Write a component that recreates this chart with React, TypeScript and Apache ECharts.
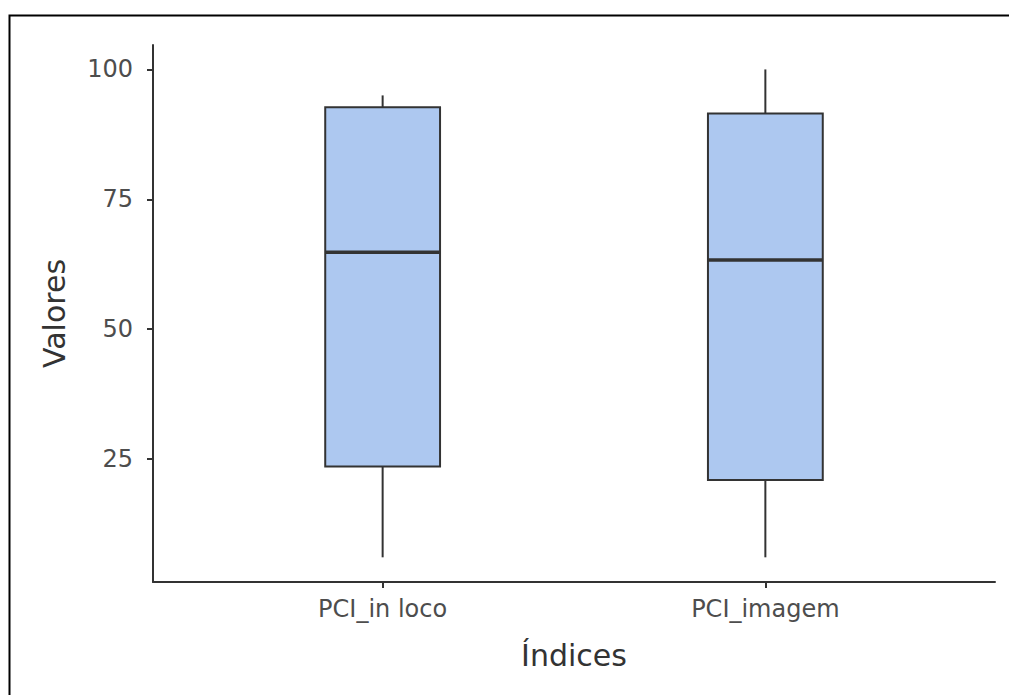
import React, { useEffect, useRef } from "react";
import * as echarts from "echarts";

const categories = ["PCI_in loco", "PCI_imagem"];
const positions = [1, 2];
const whiskerLow = [6.1, 6.1];
const q1 = [23.6, 21.0];
const median = [64.8, 63.3];
const q3 = [92.7, 91.5];
const whiskerHigh = [95.0, 100.0];
const yTicks = [25, 50, 75, 100];

export default function App() {
  const ref = useRef<HTMLDivElement>(null);
  useEffect(() => {
    if (!ref.current) return;
    document.body.style.margin = "0";
    document.body.style.overflow = "hidden";
    const chart = echarts.init(ref.current, null, { renderer: "svg" });
    const data = positions.map((p, i) => [p, whiskerLow[i], q1[i], median[i], q3[i], whiskerHigh[i]]);
    const axisColor = "#333333";
    chart.setOption({
      animation: false,
      backgroundColor: "#ffffff",
      textStyle: { fontFamily: "DejaVu Sans" },
      graphic: [
        {
          type: "polyline",
          silent: true,
          z: 100,
          shape: { points: [[9.5, 695], [9.5, 15.5], [1009, 15.5]] },
          style: { fill: "none", stroke: "#000000", lineWidth: 2 },
        },
      ],
      grid: { left: 153, right: 14, top: 45, bottom: 113, containLabel: false },
      xAxis: {
        type: "value",
        min: 0.4,
        max: 2.6,
        name: "Índices",
        nameLocation: "middle",
        nameGap: 58,
        nameTextStyle: { fontSize: 30, color: "#333333", fontFamily: "DejaVu Sans" },
        axisLine: { show: true, lineStyle: { color: axisColor, width: 2 } },
        axisTick: { show: true, customValues: positions, length: 6, lineStyle: { color: axisColor, width: 2 } },
        axisLabel: {
          customValues: positions,
          formatter: (v: number) => categories[positions.indexOf(Math.round(v))] ?? "",
          fontSize: 24,
          color: "#4d4d4d",
          margin: 15,
          fontFamily: "DejaVu Sans",
        },
        splitLine: { show: false },
      },
      yAxis: {
        type: "value",
        min: 1.35,
        max: 104.7,
        name: "Valores",
        nameLocation: "middle",
        nameGap: 84,
        nameTextStyle: { fontSize: 30, color: "#333333", fontFamily: "DejaVu Sans" },
        axisLine: { show: true, lineStyle: { color: axisColor, width: 2 } },
        axisTick: { show: true, customValues: yTicks, length: 6, lineStyle: { color: axisColor, width: 2 } },
        axisLabel: {
          customValues: yTicks,
          fontSize: 24,
          color: "#4d4d4d",
          margin: 20,
          fontFamily: "DejaVu Sans",
        },
        splitLine: { show: false },
      },
      series: [
        {
          type: "custom",
          data,
          encode: { x: 0, y: [1, 2, 3, 4, 5] },
          renderItem: (params: any, api: any) => {
            const x = api.value(0);
            const lo = api.coord([x, api.value(1)]);
            const b = api.coord([x, api.value(2)]);
            const m = api.coord([x, api.value(3)]);
            const t = api.coord([x, api.value(4)]);
            const hi = api.coord([x, api.value(5)]);
            const w = api.size([0.3, 0])[0];
            const cx = lo[0];
            const lineStyle = { stroke: "#333333", lineWidth: 2 };
            return {
              type: "group",
              children: [
                { type: "line", shape: { x1: cx, y1: hi[1], x2: cx, y2: t[1] }, style: lineStyle },
                { type: "line", shape: { x1: cx, y1: b[1], x2: cx, y2: lo[1] }, style: lineStyle },
                {
                  type: "rect",
                  shape: { x: cx - w / 2, y: t[1], width: w, height: b[1] - t[1] },
                  style: { fill: "#adc8f0", stroke: "#333333", lineWidth: 2 },
                },
                {
                  type: "line",
                  shape: { x1: cx - w / 2, y1: m[1], x2: cx + w / 2, y2: m[1] },
                  style: { stroke: "#333333", lineWidth: 3.5 },
                },
              ],
            };
          },
        },
      ],
    });
    return () => chart.dispose();
  }, []);
  return (
    <div
      ref={ref}
      style={{ position: "absolute", left: 0, top: 0, width: 1009, height: 695, background: "#fff" }}
    />
  );
}
